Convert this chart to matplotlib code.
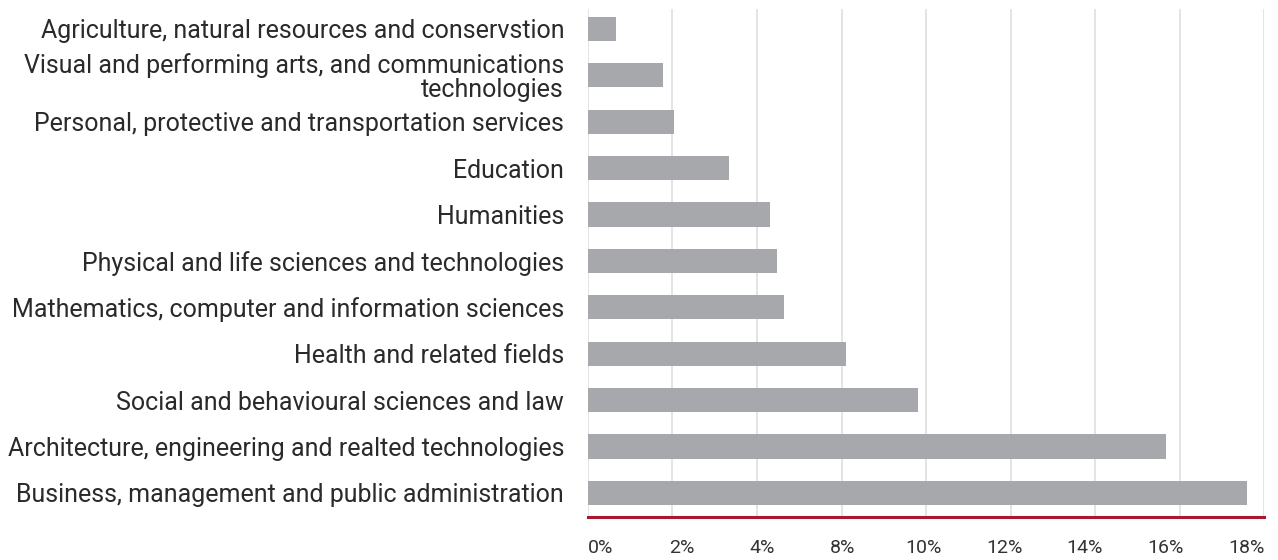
import numpy as np
import matplotlib
matplotlib.use('Agg')
from matplotlib import pyplot as plt

# fields of study, top to bottom as in the chart
fields = ['Agriculture, natural resources and conservstion',
          'Visual and performing arts, and communications\ntechnologies',
          'Personal, protective and transportation services',
          'Education',
          'Humanities',
          'Physical and life sciences and technologies',
          'Mathematics, computer and information sciences',
          'Health and related fields',
          'Social and behavioural sciences and law',
          'Architecture, engineering and realted technologies',
          'Business, management and public administration']

# bar lengths (one grid step = 2 units)
shares = [0.66, 1.79, 2.03, 3.33, 4.31, 4.48, 4.64, 6.11, 7.81, 13.68, 15.59]

# tick labels exactly as printed on the source chart
grid_values = [0, 2, 4, 6, 8, 10, 12, 14, 16]
tick_labels = ['0%', '2%', '4%', '8%', '10%', '12%', '14%', '16%', '18%']

plt.rcParams['font.family'] = ['Roboto', 'DejaVu Sans']

fig = plt.figure(figsize=(12.78, 5.6), dpi=100)
ax = fig.add_axes([0.4599, 0.0768, 0.5295, 0.9072])

y = np.arange(len(fields))
ax.barh(y, shares, height=0.52, color='#a7a8ac', zorder=2)

ax.set_xlim(0, 16)
ax.set_ylim(10.52, -0.43)

# gridlines on the major ticks, labels spread evenly on minor ticks
ax.set_xticks(grid_values)
ax.set_xticklabels([])
ax.xaxis.grid(True, color='#dcdcdc', linewidth=1.1, zorder=0)
ax.set_xticks(np.linspace(0.31, 15.57, len(tick_labels)), minor=True)
ax.set_xticklabels(tick_labels, minor=True)
ax.tick_params(axis='x', which='both', length=0, pad=16,
               labelsize=14, labelcolor='#333333')

ax.set_yticks(y)
ax.set_yticklabels(fields)
ax.tick_params(axis='y', length=0, pad=17, labelsize=18, labelcolor='#2a2a2a')
for lab in ax.get_yticklabels():
    lab.set_linespacing(1.0)

for side in ['top', 'right', 'left']:
    ax.spines[side].set_visible(False)
ax.spines['bottom'].set_color('#a6192e')
ax.spines['bottom'].set_linewidth(2.2)
ax.spines['bottom'].set_zorder(3)

fig.savefig('out.png', dpi=100)
